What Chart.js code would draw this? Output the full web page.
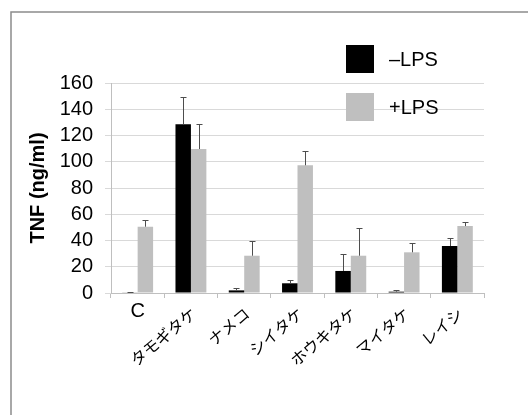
<!DOCTYPE html>
<html>
<head>
<meta charset="utf-8">
<script src="https://cdn.jsdelivr.net/npm/chart.js@4"></script>
<style>
  html, body { margin: 0; padding: 0; background: #fff; }
  #wrap { width: 528px; height: 415px; }
</style>
</head>
<body>
<div id="wrap"><canvas id="chart1" width="528" height="415"></canvas></div>
<script>
// categories and series
const categories = ['C', 'タモギタケ', 'ナメコ', 'シイタケ', 'ホウキタケ', 'マイタケ', 'レイシ'];
const minusLps = [0.3, 128.5, 2, 7.4, 16.8, 1, 35.8];
const minusLpsErr = [0.4, 20.8, 1.8, 2.3, 12.7, 1.3, 6.1];
const plusLps = [50.5, 109.7, 28.4, 97.3, 28.4, 31, 51];
const plusLpsErr = [5.5, 19.1, 11, 10.7, 20.9, 7.3, 2.9];
const yTicks = [0, 20, 40, 60, 80, 100, 120, 140, 160];

const FONT = '"Liberation Sans", Arial, sans-serif';

// frame line (top + left only, the rest is cut off)
const framePlugin = {
  id: 'frame',
  beforeDraw(chart) {
    const ctx = chart.ctx;
    ctx.save();
    ctx.strokeStyle = '#8c8c8c';
    ctx.lineWidth = 1.5;
    ctx.strokeRect(11, 12, 700, 700);
    ctx.restore();
  }
};

// error bars (upper only)
const errorBarPlugin = {
  id: 'errorBars',
  afterDatasetsDraw(chart) {
    const ctx = chart.ctx;
    const y = chart.scales.y;
    ctx.save();
    ctx.strokeStyle = '#4d4d4d';
    ctx.lineWidth = 1;
    chart.data.datasets.forEach((ds, i) => {
      const meta = chart.getDatasetMeta(i);
      meta.data.forEach((bar, j) => {
        const top = Math.round(y.getPixelForValue(ds.data[j] + ds.errors[j])) + 0.5;
        const x = Math.round(bar.x) + 0.5;
        ctx.beginPath();
        ctx.moveTo(x, bar.y);
        ctx.lineTo(x, top);
        ctx.moveTo(x - 3, top);
        ctx.lineTo(x + 3, top);
        ctx.stroke();
      });
    });
    ctx.restore();
  }
};

// category labels: "C" straight, the rest slanted
const xLabelPlugin = {
  id: 'xLabels',
  afterDraw(chart) {
    const ctx = chart.ctx;
    const x = chart.scales.x;
    ctx.save();
    ctx.fillStyle = '#000';
    categories.forEach((label, i) => {
      const cx = x.getPixelForValue(i);
      if (i === 0) {
        ctx.font = '20px ' + FONT;
        ctx.textAlign = 'center';
        ctx.textBaseline = 'top';
        ctx.fillText(label, cx, 301);
      } else {
        ctx.font = '16px "Noto Sans CJK JP", sans-serif';
        ctx.translate(cx + 3, 311);
        ctx.rotate(-40 * Math.PI / 180);
        ctx.textAlign = 'right';
        ctx.textBaseline = 'middle';
        ctx.fillText(label, 0, 0);
        ctx.setTransform(1, 0, 0, 1, 0, 0);
      }
    });
    ctx.restore();
  }
};

// legend drawn inside the plot
const legendPlugin = {
  id: 'boxLegend',
  afterDraw(chart) {
    const ctx = chart.ctx;
    ctx.save();
    ctx.font = '20px ' + FONT;
    ctx.textAlign = 'left';
    ctx.textBaseline = 'middle';
    chart.data.datasets.forEach((ds, i) => {
      const top = 45 + i * 48;
      ctx.fillStyle = ds.backgroundColor;
      ctx.fillRect(346, top, 28, 28);
      ctx.fillStyle = '#000';
      ctx.fillText(ds.label, 389, top + 15);
    });
    ctx.restore();
  }
};

const chartConfig = {
  type: 'bar',
  data: {
    labels: categories,
    datasets: [
      { label: '\u2013LPS', data: minusLps, errors: minusLpsErr, backgroundColor: '#000000' },
      { label: '+LPS', data: plusLps, errors: plusLpsErr, backgroundColor: '#bfbfbf' }
    ]
  },
  options: {
    responsive: false,
    animation: false,
    events: [],
    layout: { padding: { left: 26, right: 44, top: 83, bottom: 117 } },
    categoryPercentage: 0.58,
    barPercentage: 1,
    plugins: {
      legend: { display: false },
      tooltip: { enabled: false }
    },
    scales: {
      x: {
        grid: { offset: true, drawOnChartArea: false, drawTicks: true, tickLength: 5, color: '#bfbfbf' },
        border: { color: '#bfbfbf' },
        ticks: { display: false }
      },
      y: {
        min: 0,
        max: 160,
        afterBuildTicks: s => { s.ticks = yTicks.map(v => ({ value: v })); },
        afterFit: s => { s.width = 85; },
        grid: { color: '#d9d9d9', tickLength: 6 },
        border: { color: '#bfbfbf' },
        ticks: { color: '#000', font: { family: FONT, size: 20 }, padding: 12, autoSkip: false },
        title: {
          display: true,
          text: 'TNF (ng/ml)',
          color: '#000',
          font: { family: FONT, size: 20, weight: 'bold' },
          padding: { top: 0, bottom: 0 }
        }
      }
    }
  },
  plugins: [framePlugin, errorBarPlugin, xLabelPlugin, legendPlugin]
};

function renderChart() {
  const canvas = document.getElementById('chart1');
  new Chart(canvas, chartConfig);
}

renderChart();
</script>
</body>
</html>
